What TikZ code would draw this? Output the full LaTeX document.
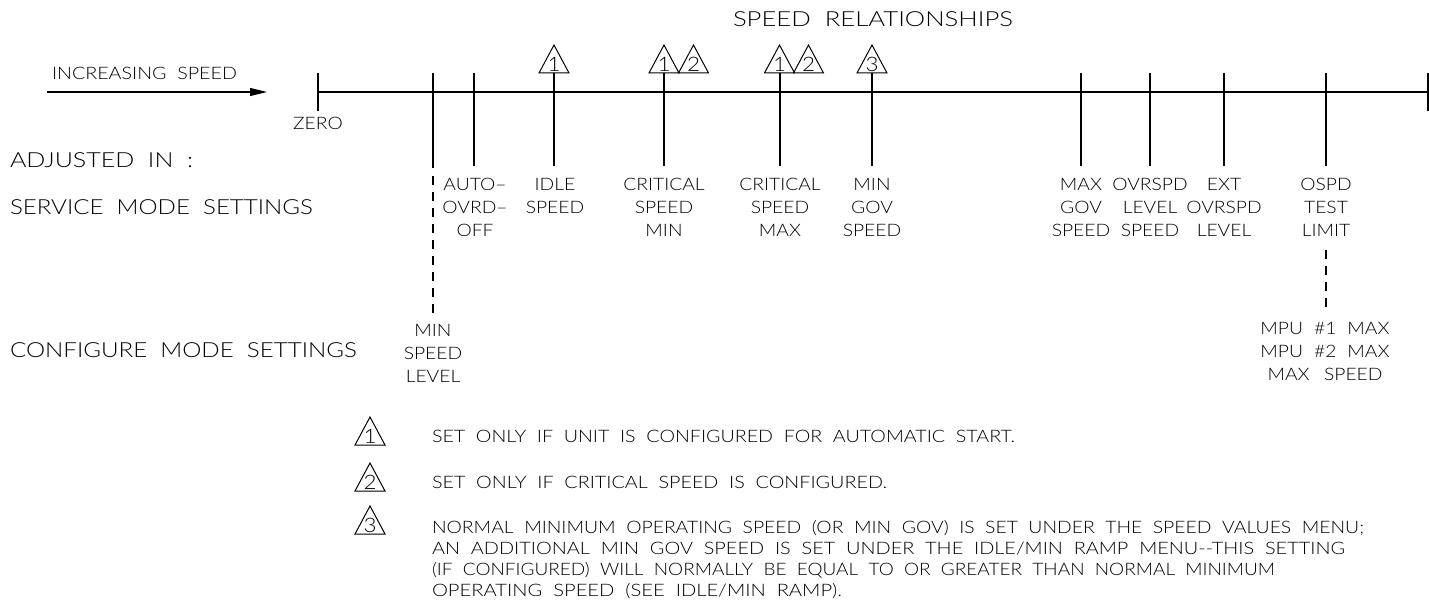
\documentclass[tikz,border=0pt]{standalone}
\usepackage{fontspec}
\usepackage{graphicx}
\setmainfont{Lato}[UprightFont=* Light, FakeStretch=1.12, WordSpace=2]
\usetikzlibrary{arrows.meta}
\newcommand\smallf{\fontsize{17.2}{23}\selectfont}
\newcommand\bigf{\fontsize{20.8}{25}\selectfont}
\newcommand\notef{\fontsize{17.2}{21}\selectfont}
\newcommand\digf{\fontsize{20}{20}\selectfont}
\newcommand\fitto[2]{\resizebox{#1pt}{\height}{#2}}
\tikzset{
  lbl/.style={font=\smallf, align=center, anchor=north},
  bigtxt/.style={font=\bigf, anchor=base west},
  notetxt/.style={font=\notef, align=left},
  dashln/.style={dash pattern=on 9pt off 7pt},
  pics/tri/.style={code={
    \draw[line width=1pt] (-15,0) -- (0,-28) -- (15,0) -- cycle;
    \node[font=\digf, anchor=base] at (0,-1.5) {#1};
  }}
}
\begin{document}
\begin{tikzpicture}[x=1pt,y=-1pt, line width=1.1pt,
  every node/.style={inner sep=0pt, outer sep=0pt}]
\useasboundingbox (0,0) rectangle (1429,607);

% title
\node[font=\bigf, anchor=base] (title) at (873,27) {\fitto{280}{SPEED RELATIONSHIPS}};

% increasing speed arrow
\node[font=\smallf, anchor=base west] (inc) at (52,79.7) {\fitto{185}{INCREASING SPEED}};
\coordinate (arrS) at (47,92);
\coordinate (arrE) at (267,92);
\draw[-{Triangle[length=17pt,width=8pt]}] (arrS) -- (arrE);

% axis
\coordinate (zt) at (318,73); \coordinate (zb) at (318,111); \coordinate (z) at (318,92);
\coordinate (et) at (1428,73); \coordinate (eb) at (1428,111); \coordinate (e) at (1428,92);
\draw (zt) -- (zb);
\draw (et) -- (eb);
\draw (z) -- (e);
\node[font=\smallf, anchor=north] (zero) at (318,117) {ZERO};

% left labels
\node[bigtxt] (adj) at (10,167.5) {\fitto{183}{ADJUSTED IN :}};
\node[bigtxt] (svc) at (10,214.5) {\fitto{303}{SERVICE MODE SETTINGS}};
\node[bigtxt] (cfg) at (10,357.5) {\fitto{347}{CONFIGURE MODE SETTINGS}};

% vertical marker lines
\foreach \n/\x in {auto/474, idle/554, csmin/664, csmax/780, mgov/872,
                   xgov/1081, ovr/1150, ext/1224, ospd/1326} {
  \coordinate (\n-t) at (\x,73);
  \coordinate (\n-b) at (\x,166);
  \draw (\n-t) -- (\n-b);
}
\coordinate (msl-t) at (433,73);
\coordinate (msl-b) at (433,168);
\coordinate (msl-dt) at (433,176);
\coordinate (msl-db) at (433,313);
\draw (msl-t) -- (msl-b);
\draw[dashln] (msl-dt) -- (msl-db);
\coordinate (ospd-dt) at (1326,250);
\coordinate (ospd-db) at (1326,313);
\draw[dashln] (ospd-dt) -- (ospd-db);

% triangles on the axis
\pic (tidle) at (554,73) {tri=1};
\pic (tcmin1) at (664,73) {tri=1};
\pic (tcmin2) at (693.5,73) {tri=2};
\pic (tcmax1) at (779.5,73) {tri=1};
\pic (tcmax2) at (808.5,73) {tri=2};
\pic (tmgov) at (872,73) {tri=3};

% service mode labels
\node[lbl] (l-auto) at (475,178) {AUTO–\\OVRD–\\OFF};
\node[lbl] (l-idle) at (555,178) {IDLE\\SPEED};
\node[lbl] (l-csmin) at (664,178) {CRITICAL\\SPEED\\MIN};
\node[lbl] (l-csmax) at (780,178) {CRITICAL\\SPEED\\MAX};
\node[lbl] (l-mgov) at (872,178) {MIN\\GOV\\SPEED};
\node[lbl] (l-xgov) at (1081,178) {MAX\\GOV\\SPEED};
\node[lbl] (l-ovr) at (1150,178) {OVRSPD\\LEVEL\\SPEED};
\node[lbl] (l-ext) at (1224,178) {EXT\\OVRSPD\\LEVEL};
\node[lbl] (l-ospd) at (1326,178) {OSPD\\TEST\\LIMIT};

% configure mode labels
\node[lbl] (l-msl) at (433,324) {MIN\\SPEED\\LEVEL};
\node[lbl] (l-mpu) at (1325,322) {MPU\hspace{11pt}\#1\hspace{11pt}MAX\\MPU\hspace{11pt}\#2\hspace{11pt}MAX\\MAX\hspace{4pt} SPEED};

% notes
\pic (nt1) at (370,445) {tri=1};
\pic (nt2) at (370,491) {tri=2};
\pic (nt3) at (370,534) {tri=3};
\node[notetxt, anchor=base west] (n1) at (432,442) {\fitto{583}{SET ONLY IF UNIT IS CONFIGURED FOR AUTOMATIC START.}};
\node[notetxt, anchor=base west] (n2) at (432,488) {\fitto{455}{SET ONLY IF CRITICAL SPEED IS CONFIGURED.}};
\node[notetxt, anchor=north west] (n3) at (432,520.8) {\fitto{932}{NORMAL MINIMUM OPERATING SPEED (OR MIN GOV) IS SET UNDER THE SPEED VALUES MENU;}\\
\fitto{913}{AN ADDITIONAL MIN GOV SPEED IS SET UNDER THE IDLE/MIN RAMP MENU{-}{-}THIS SETTING}\\
\fitto{843}{(IF CONFIGURED) WILL NORMALLY BE EQUAL TO OR GREATER THAN NORMAL MINIMUM}\\
\fitto{410}{OPERATING SPEED (SEE IDLE/MIN RAMP).}};
\end{tikzpicture}
\end{document}
